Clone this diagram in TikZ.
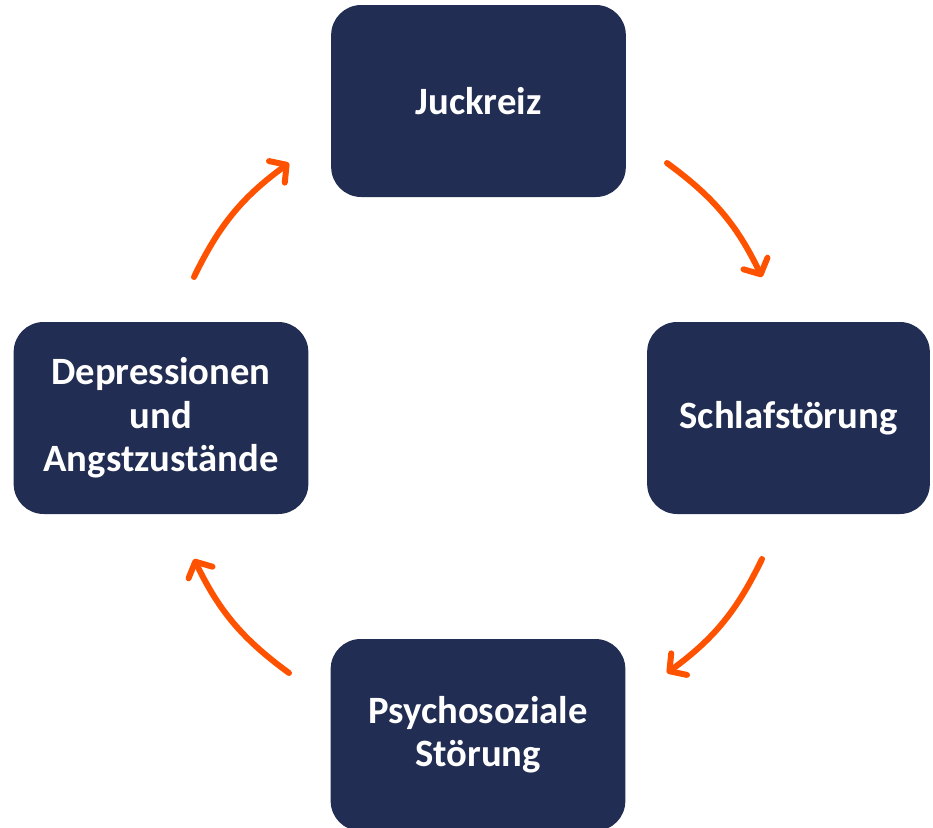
\documentclass[tikz,border=0pt]{standalone}
\usepackage{fontspec}
\setmainfont{Carlito}
\usetikzlibrary{arrows.meta}
\definecolor{boxnavy}{RGB}{33,45,82}
\definecolor{cycleorange}{RGB}{255,82,0}

\begin{document}
\begin{tikzpicture}[x=0.75pt,y=0.75pt,yscale=-1,xscale=1,
  stage/.style={fill=boxnavy, draw=none, rounded corners=22.5pt, minimum width=221pt, minimum height=144pt, inner sep=0pt, text=white, align=center, font=\fontsize{29}{32.5}\selectfont\bfseries},
  cyclearrow/.style={draw=cycleorange, line width=4.5pt, line cap=round, -{Straight Barb[length=9pt,width=20pt,round]}}]
\useasboundingbox (0,0) rectangle (933,828);

%Boxes
\node [stage] (juckreiz) at (478.5,101) {Juckreiz};
\node [stage, minimum width=212pt] (schlaf) at (788.5,418) {Schlafstörung};
\node [stage] (psycho) at (478,735) {Psychosoziale\\Störung};
\node [stage] (depress) at (161,418) {Depressionen\\und\\Angstzustände};

%Arrow ends
\coordinate (tlstart) at (194,277);
\coordinate (tlend) at (289,163);
\coordinate (trstart) at (667,163);
\coordinate (trend) at (762,277);
\coordinate (brstart) at (762,559);
\coordinate (brend) at (667,673);
\coordinate (blstart) at (289,673);
\coordinate (blend) at (194,559);

%Cycle arrows
\draw [cyclearrow] (tlstart) to[bend right=14] (tlend);
\draw [cyclearrow] (trstart) to[bend right=14] (trend);
\draw [cyclearrow] (brstart) to[bend right=14] (brend);
\draw [cyclearrow] (blstart) to[bend right=14] (blend);

\end{tikzpicture}
\end{document}
